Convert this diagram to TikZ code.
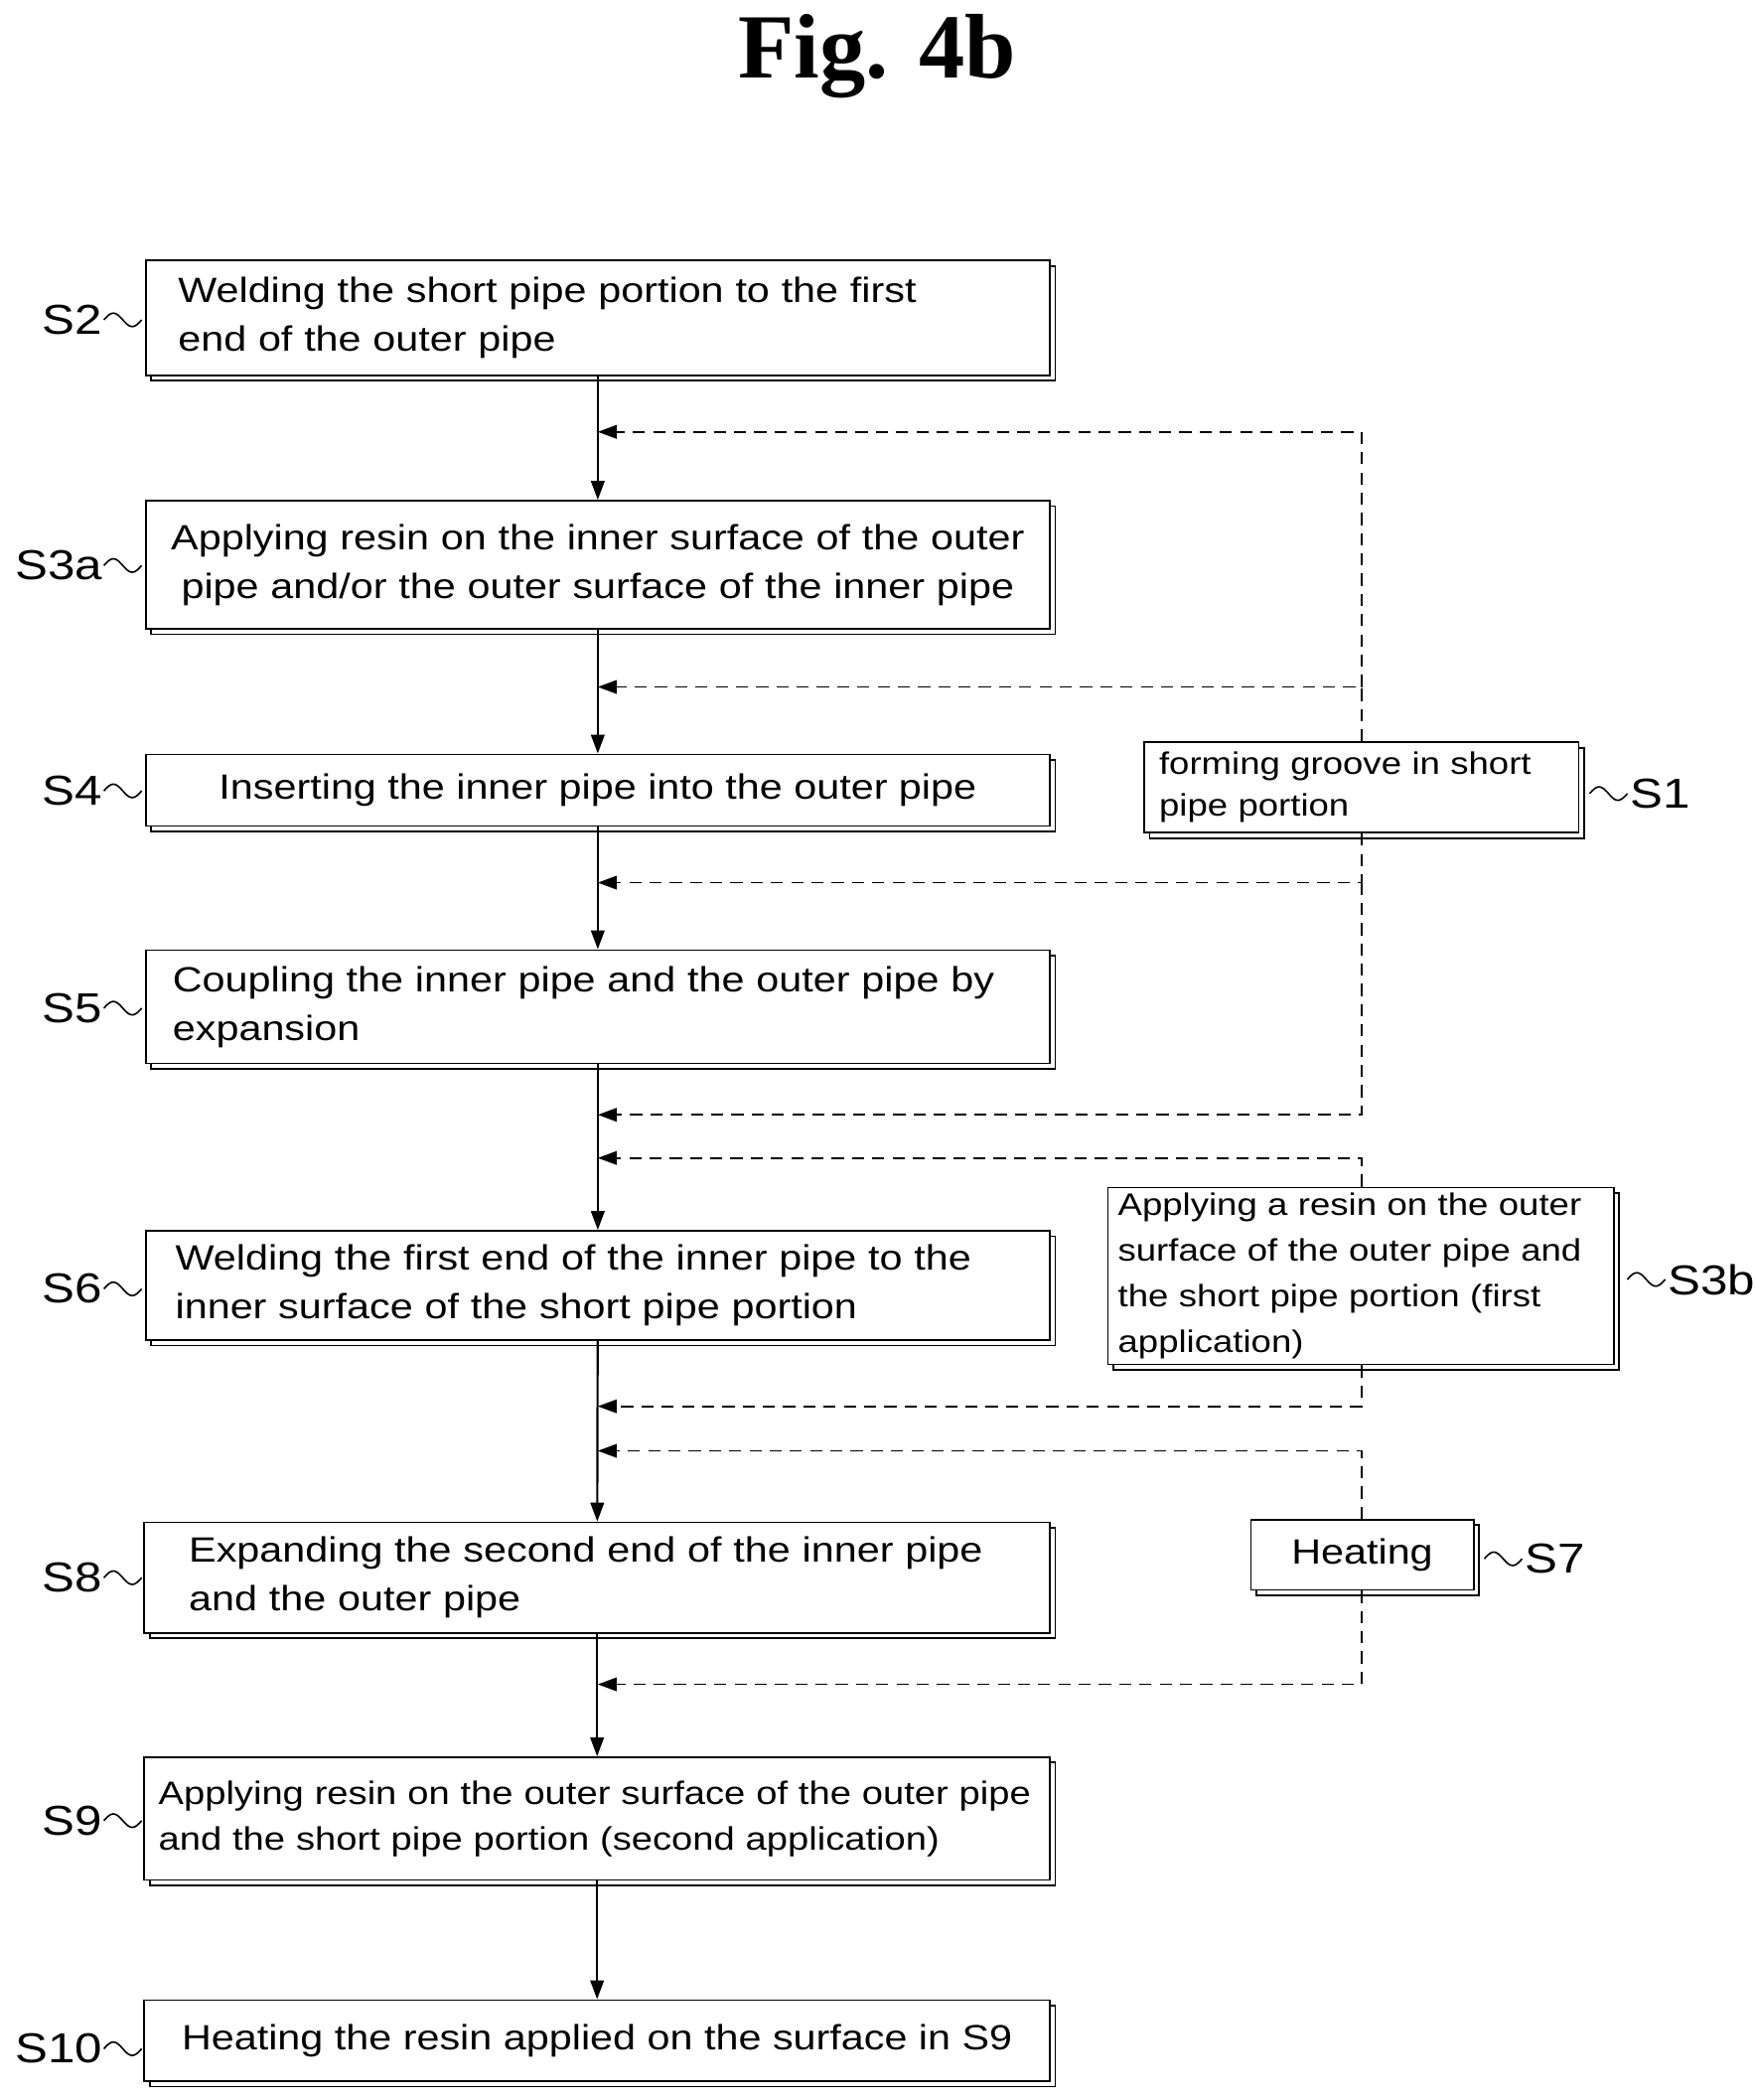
\documentclass[tikz,border=0pt]{standalone}
\usepackage{fontspec}
\setmainfont[FakeStretch=1.17]{Liberation Sans}
\newfontfamily\titlefont{Liberation Serif}
\usetikzlibrary{shadows,arrows.meta}
\tikzset{
  stepbox/.style={draw,line width=1.3pt,fill=white,inner sep=0pt,
    copy shadow={shadow xshift=4pt,shadow yshift=-4pt,draw,line width=1.3pt,fill=white},
    font=\fontsize{26}{36}\selectfont},
  lbl/.style={font=\fontsize{31}{32}\selectfont,inner sep=0pt},
  flow/.style={line width=1.6pt,-{Triangle[length=14pt,width=10pt]}},
  side/.style={line width=1.3pt,dash pattern=on 9pt off 6pt,-{Triangle[length=14pt,width=10pt]}},
}
\newcommand{\wig}[1]{\draw[line width=1.2pt] (#1) sin ++(7,-5) cos ++(7,5) sin ++(7,5) cos ++(7,-5);}
\begin{document}
\begin{tikzpicture}[x=1pt,y=-1pt]
\useasboundingbox (0,0) rectangle (1300,1556);
\node[font=\titlefont\bfseries\fontsize{68}{68}\selectfont] (title) at (650,42) {Fig. 4b};

% main steps
\node[stepbox,minimum width=670pt,minimum height=85pt,text width=622pt,align=left] (s2) at (443,235.5)
  {Welding the short pipe portion to the first\\end of the outer pipe};
\node[stepbox,minimum width=670pt,minimum height=95pt,text width=668pt,align=center] (s3a) at (443,418.5)
  {Applying resin on the inner surface of the outer\\pipe and/or the outer surface of the inner pipe};
\node[stepbox,minimum width=670pt,minimum height=53pt,align=center] (s4) at (443,585.5)
  {Inserting the inner pipe into the outer pipe};
\node[stepbox,minimum width=670pt,minimum height=84pt,text width=630pt,align=left] (s5) at (443,746)
  {Coupling the inner pipe and the outer pipe by\\expansion};
\node[stepbox,minimum width=670pt,minimum height=81pt,text width=626pt,align=left] (s6) at (443,952.5)
  {Welding the first end of the inner pipe to the\\inner surface of the short pipe portion};
\node[stepbox,minimum width=671pt,minimum height=82pt,text width=605pt,align=left] (s8) at (442.5,1169)
  {Expanding the second end of the inner pipe\\and the outer pipe};
\node[stepbox,minimum width=671pt,minimum height=91pt,text width=650pt,align=left,font=\fontsize{24}{34}\selectfont] (s9) at (442.5,1347.5)
  {Applying resin on the outer surface of the outer pipe\\and the short pipe portion (second application)};
\node[stepbox,minimum width=671pt,minimum height=60pt,align=center] (s10) at (442.5,1512)
  {Heating the resin applied on the surface in S9};

% side steps
\node[stepbox,minimum width=322pt,minimum height=67pt,text width=300pt,align=left,font=\fontsize{23}{31}\selectfont] (s1) at (1009,583.5)
  {forming groove in short\\pipe portion};
\node[stepbox,minimum width=375pt,minimum height=131pt,text width=360pt,align=left,font=\fontsize{23}{34}\selectfont] (s3b) at (1008.5,945.5)
  {Applying a resin on the outer\\surface of the outer pipe and\\the short pipe portion (first\\application)};
\node[stepbox,minimum width=165pt,minimum height=52pt,align=center] (s7) at (1009.5,1152)
  {Heating};

% labels
\node[lbl,anchor=east] (l2) at (76,237) {S2};    \wig{77,237}
\node[lbl,anchor=east] (l3a) at (76,419) {S3a};  \wig{77,419}
\node[lbl,anchor=east] (l4) at (76,586) {S4};    \wig{77,586}
\node[lbl,anchor=east] (l5) at (76,747) {S5};    \wig{77,747}
\node[lbl,anchor=east] (l6) at (76,955) {S6};    \wig{77,955}
\node[lbl,anchor=east] (l8) at (76,1169) {S8};   \wig{77,1169}
\node[lbl,anchor=east] (l9) at (76,1349) {S9};   \wig{77,1349}
\node[lbl,anchor=east] (l10) at (76,1518) {S10}; \wig{77,1518}
\wig{1178,588}  \node[lbl,anchor=west] (l1) at (1208,588) {S1};
\wig{1206,948}  \node[lbl,anchor=west] (l3b) at (1236,948) {S3b};
\wig{1100,1155} \node[lbl,anchor=west] (l7) at (1130,1155) {S7};

% main flow
\draw[flow] (s2) -- (s3a);
\draw[flow] (s3a) -- (s4);
\draw[flow] (s4) -- (s5);
\draw[flow] (s5.south -| s6.north) -- (s6);
\draw[flow] (s6) -- (s8);
\draw[flow] (s8) -- (s9);
\draw[flow] (s9) -- (s10);

% side inputs
\coordinate (j1) at (443,320);  \coordinate (j2) at (443,509);
\coordinate (j3) at (443,654);  \coordinate (j4) at (443,826);
\coordinate (j5) at (443,858);  \coordinate (j6) at (443,1042);
\coordinate (j7) at (443,1075); \coordinate (j8) at (443,1248);
\draw[side] (s1.north) -- (s1.north |- j2) -- (j2);
\draw[side] (s1.north |- j2) |- (j1);
\draw[side] (s1.south) -- (s1.south |- j3) -- (j3);
\draw[side] (s1.south |- j3) |- (j4);
\draw[side] (s3b.north -| s1.north) |- (j5);
\draw[side] (s3b.south -| s1.south) |- (j6);
\draw[side] (s7.north -| s1.north) |- (j7);
\draw[side] (s7.south -| s1.south) |- (j8);
\end{tikzpicture}
\end{document}
